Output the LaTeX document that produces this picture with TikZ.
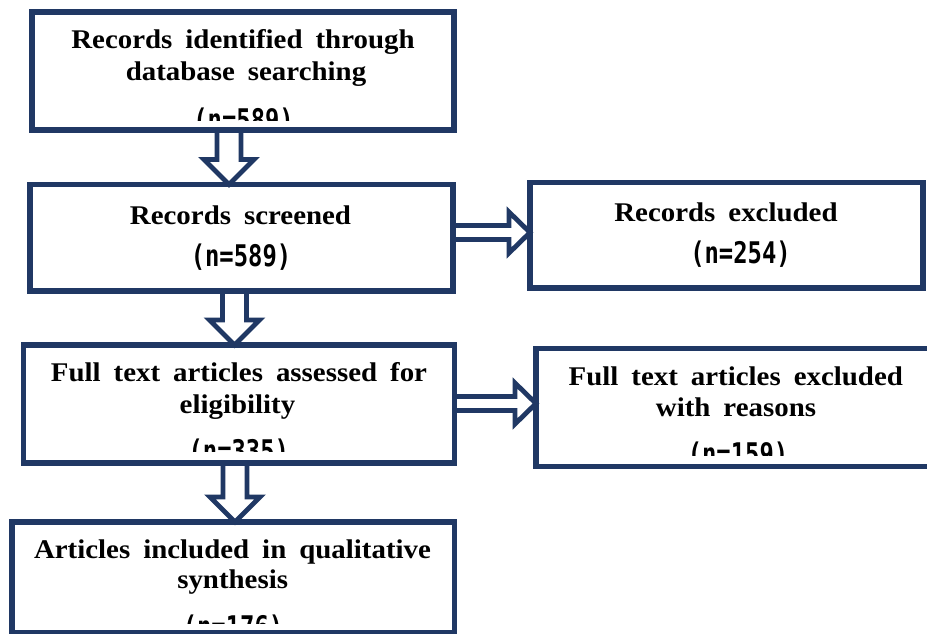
\documentclass[tikz,border=0pt]{standalone}
\usepackage{fontspec}
\setmainfont{Liberation Serif}[FakeStretch=1.07]
\newfontfamily\cntfont{DejaVu Sans Mono}[FakeStretch=0.8]
\usetikzlibrary{calc,backgrounds}
\definecolor{navy}{RGB}{32,56,100}
\newcommand\boxtextfont{\fontsize{27}{32}\selectfont\bfseries}
\newcommand\widespaces{\spaceskip=13pt plus 2pt\relax}
\tikzset{
  box/.style={draw=navy, line width=5.5pt, rectangle, inner sep=0pt, outer sep=0pt},
  txt/.style={anchor=base, inner sep=0pt, text=black, font=\boxtextfont,
    execute at begin node=\widespaces},
  cnt/.style={anchor=base, inner sep=0pt, text=black,
    font=\fontsize{29.8}{32}\selectfont\cntfont\bfseries},
  harrow/.style={draw=navy, line width=4.8pt, fill=white, line join=miter}
}
\newcommand\hollowdown[3]{%
  \draw[harrow] let \p1=(#2.south), \p2=(#3.north) in
    ({#1pt-12pt},{\y1}) -- ({#1pt-12pt},{\y2+25pt}) -- ({#1pt-25pt},{\y2+25pt})
    -- ({#1pt},{\y2}) -- ({#1pt+25pt},{\y2+25pt}) -- ({#1pt+12pt},{\y2+25pt})
    -- ({#1pt+12pt},{\y1});}
\newcommand\hollowright[3]{%
  \draw[harrow] let \p1=(#2.east), \p2=(#3.west) in
    ({\x1},{-#1pt+7pt}) -- ({\x2-21pt},{-#1pt+7pt}) -- ({\x2-21pt},{-#1pt+20.5pt})
    -- ({\x2},{-#1pt}) -- ({\x2-21pt},{-#1pt-20.5pt}) -- ({\x2-21pt},{-#1pt-7pt})
    -- ({\x1},{-#1pt-7pt});}
\begin{document}
\begin{tikzpicture}[x=1pt,y=-1pt]
\useasboundingbox (0,0) rectangle (927,634);
\clip (0,0) rectangle (927,634);
% boxes
\node[box, minimum width=422pt, minimum height=118pt] (b1) at (243,71) {};
\node[box, minimum width=423pt, minimum height=106.5pt] (b2) at (241.5,237.75) {};
\node[box, minimum width=393pt, minimum height=105.5pt] (b3) at (726.5,235.25) {};
\node[box, minimum width=431pt, minimum height=118pt] (b4) at (239,404) {};
\node[box, minimum width=399pt, minimum height=118pt] (b5) at (735.5,407.5) {};
\node[box, minimum width=442.5pt, minimum height=111pt] (b6) at (233.25,577.5) {};
% arrows
\begin{scope}[on background layer]
\hollowdown{229}{b1}{b2}
\hollowdown{234.5}{b2}{b4}
\hollowdown{235}{b4}{b6}
\hollowright{232.5}{b2}{b3}
\hollowright{403.5}{b4}{b5}
\end{scope}
% texts
\node[txt] (t1a) at (243,49) {Records identified through};
\node[txt] (t1b) at (246,81) {database searching};
\begin{scope}
\clip (40,90) rectangle (450,120);
\node[cnt] (t1c) at (243.6,130.4) {(n=589)};
\end{scope}
\node[txt] (t2a) at (240.5,224.3) {Records screened};
\node[cnt] (t2b) at (241,266.7) {(n=589)};
\node[txt] (t3a) at (726,221.7) {Records excluded};
\node[cnt] (t3b) at (740.5,263.3) {(n=254)};
\node[txt] (t4a) at (239,381.7) {Full text articles assessed for};
\node[txt] (t4b) at (237.5,413.3) {eligibility};
\begin{scope}
\clip (30,420) rectangle (450,451.7);
\node[cnt] (t4c) at (238.8,461.7) {(n=335)};
\end{scope}
\node[txt] (t5a) at (735.8,385) {Full text articles excluded};
\node[txt] (t5b) at (736,416) {with reasons};
\begin{scope}
\clip (540,425) rectangle (927,455);
\node[cnt] (t5c) at (738,464) {(n=159)};
\end{scope}
\node[txt] (t6a) at (232.5,558.3) {Articles included in qualitative};
\node[txt] (t6b) at (232.7,588.3) {synthesis};
\begin{scope}
\clip (20,595) rectangle (450,623.3);
\node[cnt] (t6c) at (233,637.4) {(n=176)};
\end{scope}
\end{tikzpicture}
\end{document}
